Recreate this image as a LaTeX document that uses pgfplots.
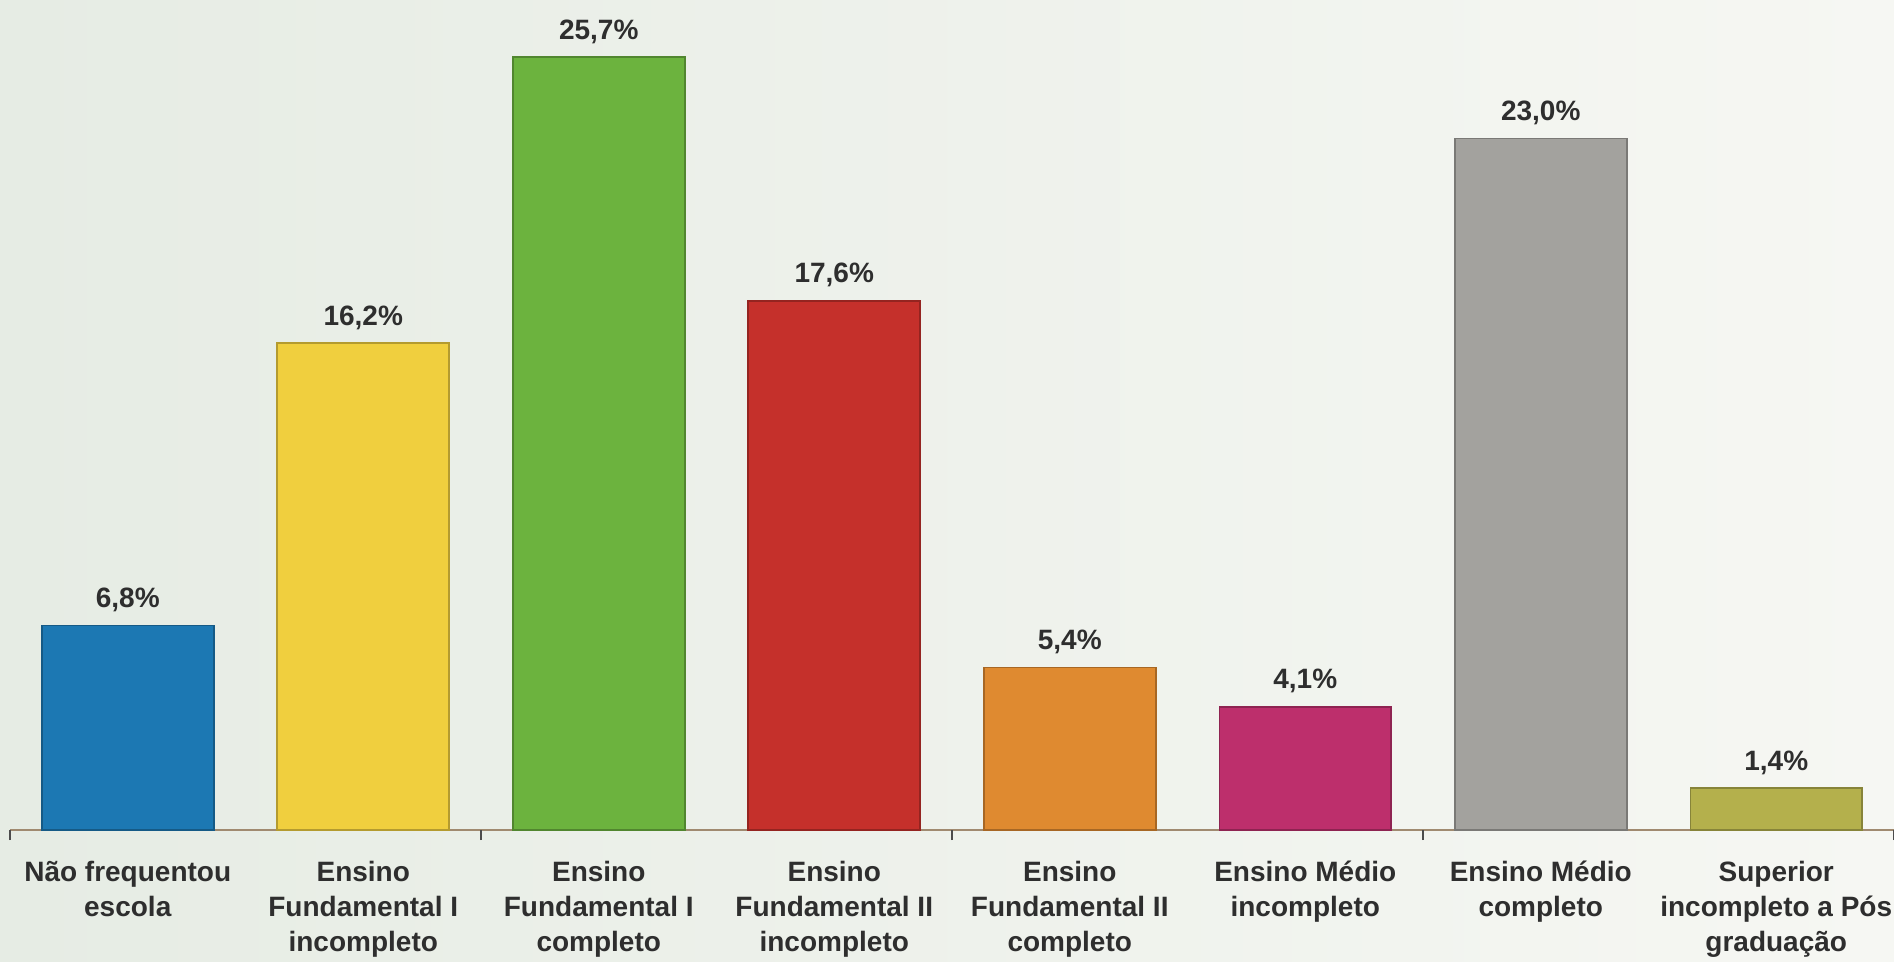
\documentclass[border=0pt]{standalone}
\usepackage{pgfplots}
\pgfplotsset{compat=1.18}
\usepackage{fontspec}
\setmainfont{Liberation Sans}
\definecolor{bgL}{HTML}{E6ECE4}
\definecolor{bgR}{HTML}{F6F7F3}
\definecolor{cblue}{HTML}{1C78B3}
\definecolor{cyellow}{HTML}{F0CF3E}
\definecolor{cgreen}{HTML}{6CB33E}
\definecolor{cred}{HTML}{C5302B}
\definecolor{corange}{HTML}{DF8A30}
\definecolor{cmag}{HTML}{BD2F6C}
\definecolor{cgray}{HTML}{A3A29E}
\definecolor{colive}{HTML}{B4B04C}
\definecolor{txt}{HTML}{2E2E2E}
\definecolor{axl}{HTML}{A08A70}
\begin{document}
\begin{tikzpicture}
\shade[left color=bgL, right color=bgR] (-5pt,-66pt) rectangle (942pt,415pt);
\begin{axis}[
  width=942pt, height=415pt, scale only axis,
  xmin=-0.5, xmax=7.5, ymin=0, ymax=27.6,
  hide y axis,
  axis x line=bottom,
  x axis line style={axl, line width=0.8pt, -},
  ybar, bar width=0.73, bar shift=0pt,
  xtick={0,...,7},
  xticklabels={{Não frequentou\\escola},{Ensino\\Fundamental I\\incompleto},{Ensino\\Fundamental I\\completo},{Ensino\\Fundamental II\\incompleto},{Ensino\\Fundamental II\\completo},{Ensino Médio\\incompleto},{Ensino Médio\\completo},{Superior\\incompleto a Pós\\graduação}},
  major tick length=0pt,
  xticklabel style={font=\fontsize{14}{17.5}\selectfont\bfseries, text=txt, align=center, anchor=north, yshift=-12pt},
  extra x ticks={-0.5,1.5,3.5,5.5,7.5},
  extra x tick labels={},
  extra x tick style={major tick length=5pt, tick align=outside, tick style={black!70, line width=0.8pt}},
  nodes near coords={\pgfmathprintnumber[fixed,fixed zerofill,precision=1,use comma,assume math mode=true]{\pgfplotspointmeta}\%},
  nodes near coords style={font=\fontsize{14}{17}\selectfont\bfseries, text=txt, anchor=south, yshift=3pt},
  every axis plot/.append style={line width=0.8pt},
  clip=false,
]
\addplot[fill=cblue, draw=cblue!75!black] coordinates {(0,6.8)};
\addplot[fill=cyellow, draw=cyellow!75!black] coordinates {(1,16.2)};
\addplot[fill=cgreen, draw=cgreen!75!black] coordinates {(2,25.7)};
\addplot[fill=cred, draw=cred!75!black] coordinates {(3,17.6)};
\addplot[fill=corange, draw=corange!75!black] coordinates {(4,5.4)};
\addplot[fill=cmag, draw=cmag!75!black] coordinates {(5,4.1)};
\addplot[fill=cgray, draw=cgray!75!black] coordinates {(6,23.0)};
\addplot[fill=colive, draw=colive!75!black] coordinates {(7,1.4)};
\end{axis}
\pgfresetboundingbox
\useasboundingbox (-5pt,-66pt) rectangle (942pt,415pt);
\end{tikzpicture}
\end{document}
